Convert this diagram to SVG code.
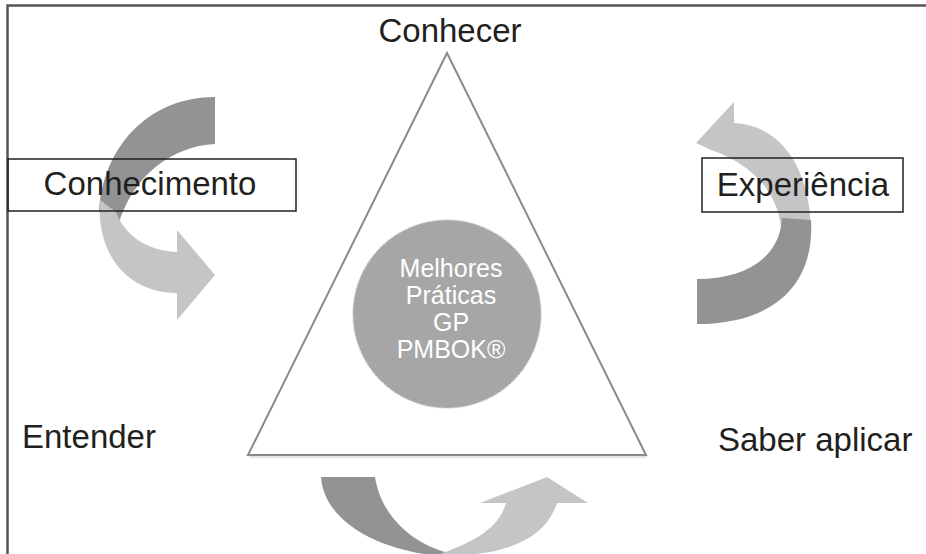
<svg xmlns="http://www.w3.org/2000/svg" width="926" height="554" viewBox="0 0 926 554">
<style>
.lbl{font-family:"Liberation Sans",Arial,sans-serif;font-size:33px;fill:#231f20}
.ctr{font-family:"Liberation Sans",Arial,sans-serif;font-size:25px;fill:#ffffff;text-anchor:middle}
.dark{fill:#939396}
.light{fill:#c4c5c7}
.box{fill:none;stroke:#231f20;stroke-width:1.5}
</style>
<rect width="926" height="554" fill="#ffffff"/>
<path d="M7.5,554 V5.5 H926" fill="none" stroke="#555555" stroke-width="2.5"/>
<g id="connectors">
  <g id="arrow-left">
    <path class="dark" d="M215,97 L215,144 C172,146 132,176 118,226 L99,212 C103,145 150,97 215,97 Z"/>
    <path class="light" d="M100,200 C96,255 128,293 177,293 L177,320 L215,275 L177,230 L177,252 C150,251 126,238 116,212 Z"/>
  </g>
  <g id="arrow-right">
    <path class="light" d="M734,102 L734,123 C779,125 809,165 811,228 L781,228 C778,190 748,162 711,150 L696,143 Z"/>
    <path class="dark" d="M811,220 C815,287 771,324 697,324 L697,279 C745,279 780,258 782,218 Z"/>
  </g>
  <g id="arrow-bottom">
    <path class="dark" d="M321,477 L375,477 C380,510 405,540 445,552 L440,556 C375,550 324,520 321,477 Z"/>
    <path class="light" d="M440,554 C480,540 500,525 506,503 L480,503 L547,477 L588,503 L557,503 C545,540 505,556 440,556 Z"/>
  </g>
</g>
<g id="triangle">
  <polyline points="249,457 647,457" fill="none" stroke="#e6e6e6" stroke-width="2"/>
  <polygon points="447,53 248,455 646,455" fill="none" stroke="#8a8a8a" stroke-width="2"/>
</g>
<g id="circle">
  <circle cx="447" cy="314" r="94" fill="#a6a6a6" stroke="#bdbdbd" stroke-width="1.5" stroke-dasharray="1 1.5"/>
  <text class="ctr" x="451" y="277">Melhores</text>
  <text class="ctr" x="451" y="304">Práticas</text>
  <text class="ctr" x="451" y="331">GP</text>
  <text class="ctr" x="451" y="358">PMBOK®</text>
</g>
<g id="conhecer">
  <text class="lbl" x="450" y="42" text-anchor="middle">Conhecer</text>
</g>
<g id="conhecimento">
  <rect class="box" x="8" y="159" width="288" height="52"/>
  <text class="lbl" x="150" y="195" text-anchor="middle">Conhecimento</text>
</g>
<g id="experiencia">
  <rect class="box" x="702" y="158" width="201" height="54"/>
  <text class="lbl" x="803" y="196" text-anchor="middle">Experiência</text>
</g>
<g id="entender">
  <text class="lbl" x="22" y="448">Entender</text>
</g>
<g id="saber">
  <text class="lbl" x="718" y="451">Saber aplicar</text>
</g>
</svg>
